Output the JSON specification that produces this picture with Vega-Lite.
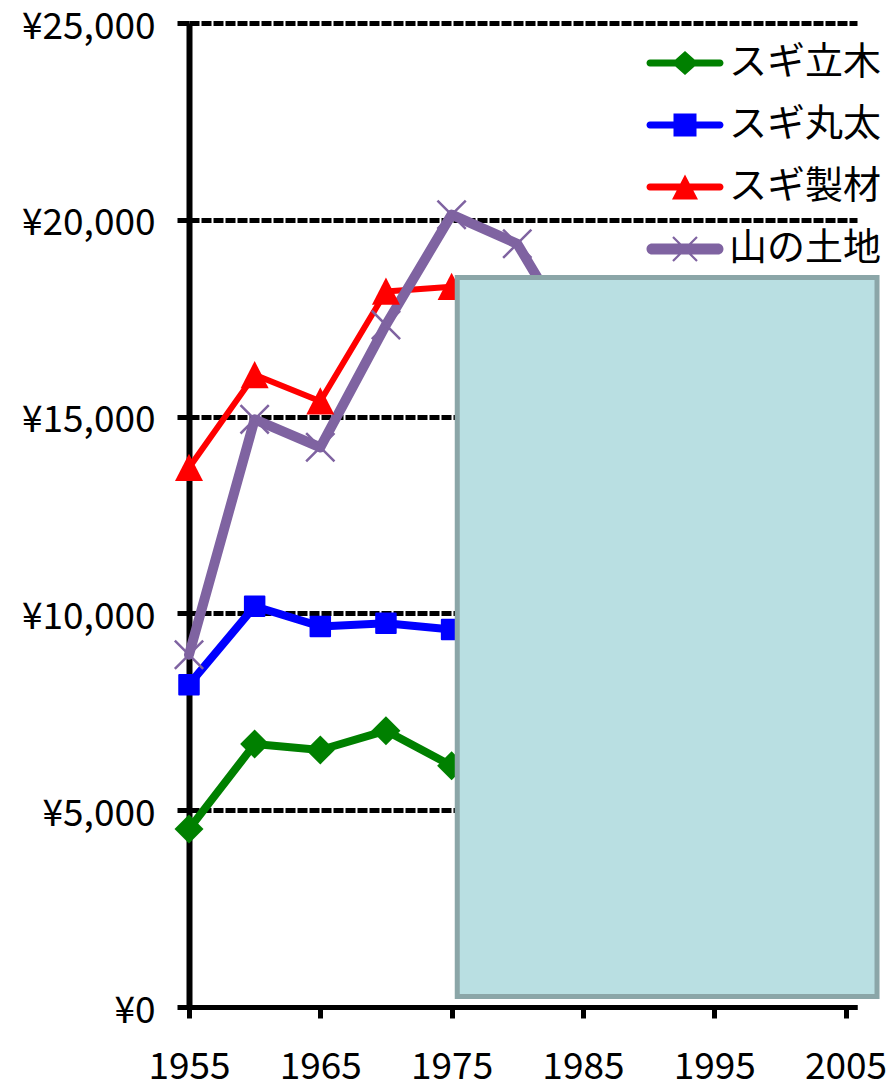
{
  "$schema": "https://vega.github.io/schema/vega-lite/v6.json",
  "width": 668,
  "height": 984,
  "autosize": {"type": "none"},
  "padding": {"left": 189, "top": 23, "right": 36, "bottom": 81},
  "background": "white",
  "config": {"view": {"stroke": null}},
  "datasets": {
    "prices": [
      {"year": 1955, "series": "スギ立木", "value": 4520},
      {"year": 1960, "series": "スギ立木", "value": 6680},
      {"year": 1965, "series": "スギ立木", "value": 6530},
      {"year": 1970, "series": "スギ立木", "value": 7020},
      {"year": 1975, "series": "スギ立木", "value": 6130},
      {"year": 1955, "series": "スギ丸太", "value": 8190},
      {"year": 1960, "series": "スギ丸太", "value": 10180},
      {"year": 1965, "series": "スギ丸太", "value": 9670},
      {"year": 1970, "series": "スギ丸太", "value": 9750},
      {"year": 1975, "series": "スギ丸太", "value": 9590},
      {"year": 1955, "series": "スギ製材", "value": 13700},
      {"year": 1960, "series": "スギ製材", "value": 16060},
      {"year": 1965, "series": "スギ製材", "value": 15390},
      {"year": 1970, "series": "スギ製材", "value": 18180},
      {"year": 1975, "series": "スギ製材", "value": 18300},
      {"year": 1955, "series": "山の土地", "value": 8950},
      {"year": 1960, "series": "山の土地", "value": 14930},
      {"year": 1965, "series": "山の土地", "value": 14220},
      {"year": 1970, "series": "山の土地", "value": 17330},
      {"year": 1975, "series": "山の土地", "value": 20130},
      {"year": 1980, "series": "山の土地", "value": 19390},
      {"year": 1985, "series": "山の土地", "value": 16600}
    ],
    "panel": [{"x1": 1975.43, "x2": 2007.4, "y1": 267, "y2": 18534}]
  },
  "data": {"name": "prices"},
  "encoding": {
    "x": {
      "field": "year", "type": "quantitative",
      "scale": {"domain": [1955, 2005.875], "nice": false, "zero": false},
      "axis": {
        "title": null, "values": [1955, 1965, 1975, 1985, 1995, 2005], "format": "d",
        "grid": false, "domainColor": "black", "domainWidth": 5,
        "tickColor": "black", "tickWidth": 5, "tickSize": 11,
        "labelFont": "Noto Sans CJK JP", "labelFontSize": 37, "labelColor": "black",
        "labelPadding": 31, "labelFlush": false, "labelOverlap": false
      }
    },
    "y": {
      "field": "value", "type": "quantitative",
      "scale": {"domain": [0, 25000], "nice": false, "zero": true},
      "axis": {
        "title": null, "values": [0, 5000, 10000, 15000, 20000, 25000],
        "labelExpr": "'¥' + format(datum.value, ',')",
        "grid": true, "gridColor": "black", "gridWidth": 5, "gridDash": [10, 2],
        "domainColor": "black", "domainWidth": 6,
        "tickColor": "black", "tickWidth": 5, "tickSize": 12,
        "labelFont": "Noto Sans CJK JP", "labelFontSize": 37, "labelColor": "black",
        "labelPadding": 22, "labelOffset": 4, "labelFlush": false, "labelOverlap": false
      }
    }
  },
  "layer": [
    {
      "transform": [{"filter": "datum.series === 'スギ立木'"}],
      "mark": {"type": "line", "color": "#008000", "strokeWidth": 8, "strokeCap": "round", "strokeJoin": "round"}
    },
    {
      "transform": [{"filter": "datum.series === 'スギ丸太'"}],
      "mark": {"type": "line", "color": "#0000ff", "strokeWidth": 8, "strokeCap": "round", "strokeJoin": "round"}
    },
    {
      "transform": [{"filter": "datum.series === 'スギ製材'"}],
      "mark": {"type": "line", "color": "#ff0000", "strokeWidth": 6, "strokeCap": "round", "strokeJoin": "round"}
    },
    {
      "transform": [{"filter": "datum.series === '山の土地'"}],
      "mark": {"type": "line", "color": "#7f63a1", "strokeWidth": 10, "strokeCap": "round", "strokeJoin": "round"}
    },
    {
      "transform": [{"filter": "datum.series === 'スギ立木'"}],
      "mark": {"type": "point", "shape": "diamond", "filled": true, "size": 840, "color": "#008000", "opacity": 1}
    },
    {
      "transform": [{"filter": "datum.series === 'スギ丸太'"}],
      "mark": {"type": "point", "shape": "square", "filled": true, "size": 380, "color": "#0000ff", "stroke": "#0000ff", "strokeWidth": 2, "strokeJoin": "round", "opacity": 1}
    },
    {
      "transform": [{"filter": "datum.series === 'スギ製材'"}],
      "mark": {"type": "point", "shape": "M0,-1L1,0.95L-1,0.95Z", "filled": true, "size": 784, "color": "#ff0000", "opacity": 1}
    },
    {
      "transform": [{"filter": "datum.series === '山の土地'"}],
      "mark": {"type": "point", "shape": "M-1,-1L1,1M-1,1L1,-1", "filled": false, "size": 800, "color": "#7f63a1", "strokeWidth": 2.5, "opacity": 1}
    },
    {
      "data": {"name": "panel"},
      "mark": {"type": "rect", "fill": "#b9dfe2", "stroke": "#8ba6a8", "strokeWidth": 5},
      "encoding": {
        "x": {"field": "x1", "type": "quantitative", "axis": {"title": null}},
        "x2": {"field": "x2"},
        "y": {"field": "y1", "type": "quantitative", "axis": {"title": null}},
        "y2": {"field": "y2"}
      }
    },
    {
      "mark": {"type": "point", "filled": true, "size": 1600, "opacity": 0},
      "encoding": {
        "color": {
          "field": "series", "type": "nominal",
          "scale": {"domain": ["スギ立木", "スギ丸太", "スギ製材", "山の土地"], "range": ["#008000", "#0000ff", "#ff0000", "#7f63a1"]},
          "legend": {
            "title": null, "orient": "none", "legendX": 476, "legendY": 20, "padding": 0,
            "symbolSize": 1600, "symbolStrokeWidth": 0, "symbolOpacity": 1,
            "labelFont": "Noto Sans CJK JP", "labelFontSize": 38, "labelColor": "black",
            "labelOffset": 24, "rowPadding": 23, "labelLimit": 400
          }
        },
        "shape": {
          "field": "series", "type": "nominal",
          "scale": {
            "domain": ["スギ立木", "スギ丸太", "スギ製材", "山の土地"],
            "range": [
              "M-1.75,-0.175H1.75A0.175,0.175 0 0 1 1.75,0.175H-1.75A0.175,0.175 0 0 1 -1.75,-0.175Z M-0.675,0L0,-0.6L0.675,0L0,0.6Z",
              "M-1.75,-0.175H1.75A0.175,0.175 0 0 1 1.75,0.175H-1.75A0.175,0.175 0 0 1 -1.75,-0.175Z M-0.575,-0.575H0.575V0.575H-0.575Z",
              "M-1.75,-0.175H1.75A0.175,0.175 0 0 1 1.75,0.175H-1.75A0.175,0.175 0 0 1 -1.75,-0.175Z M0,-0.62L0.65,0.63L-0.65,0.63Z",
              "M-1.65,-0.275H1.65A0.275,0.275 0 0 1 1.65,0.275H-1.65A0.275,0.275 0 0 1 -1.65,-0.275Z M-0.561,-0.639L0.639,0.561L0.561,0.639L-0.639,-0.561Z M-0.639,0.561L0.561,-0.639L0.639,-0.561L-0.561,0.639Z"
            ]
          },
          "legend": {
            "title": null, "orient": "none", "legendX": 476, "legendY": 20, "padding": 0,
            "symbolSize": 1600, "symbolStrokeWidth": 0, "symbolOpacity": 1,
            "labelFont": "Noto Sans CJK JP", "labelFontSize": 38, "labelColor": "black",
            "labelOffset": 24, "rowPadding": 23, "labelLimit": 400
          }
        }
      }
    }
  ]
}
